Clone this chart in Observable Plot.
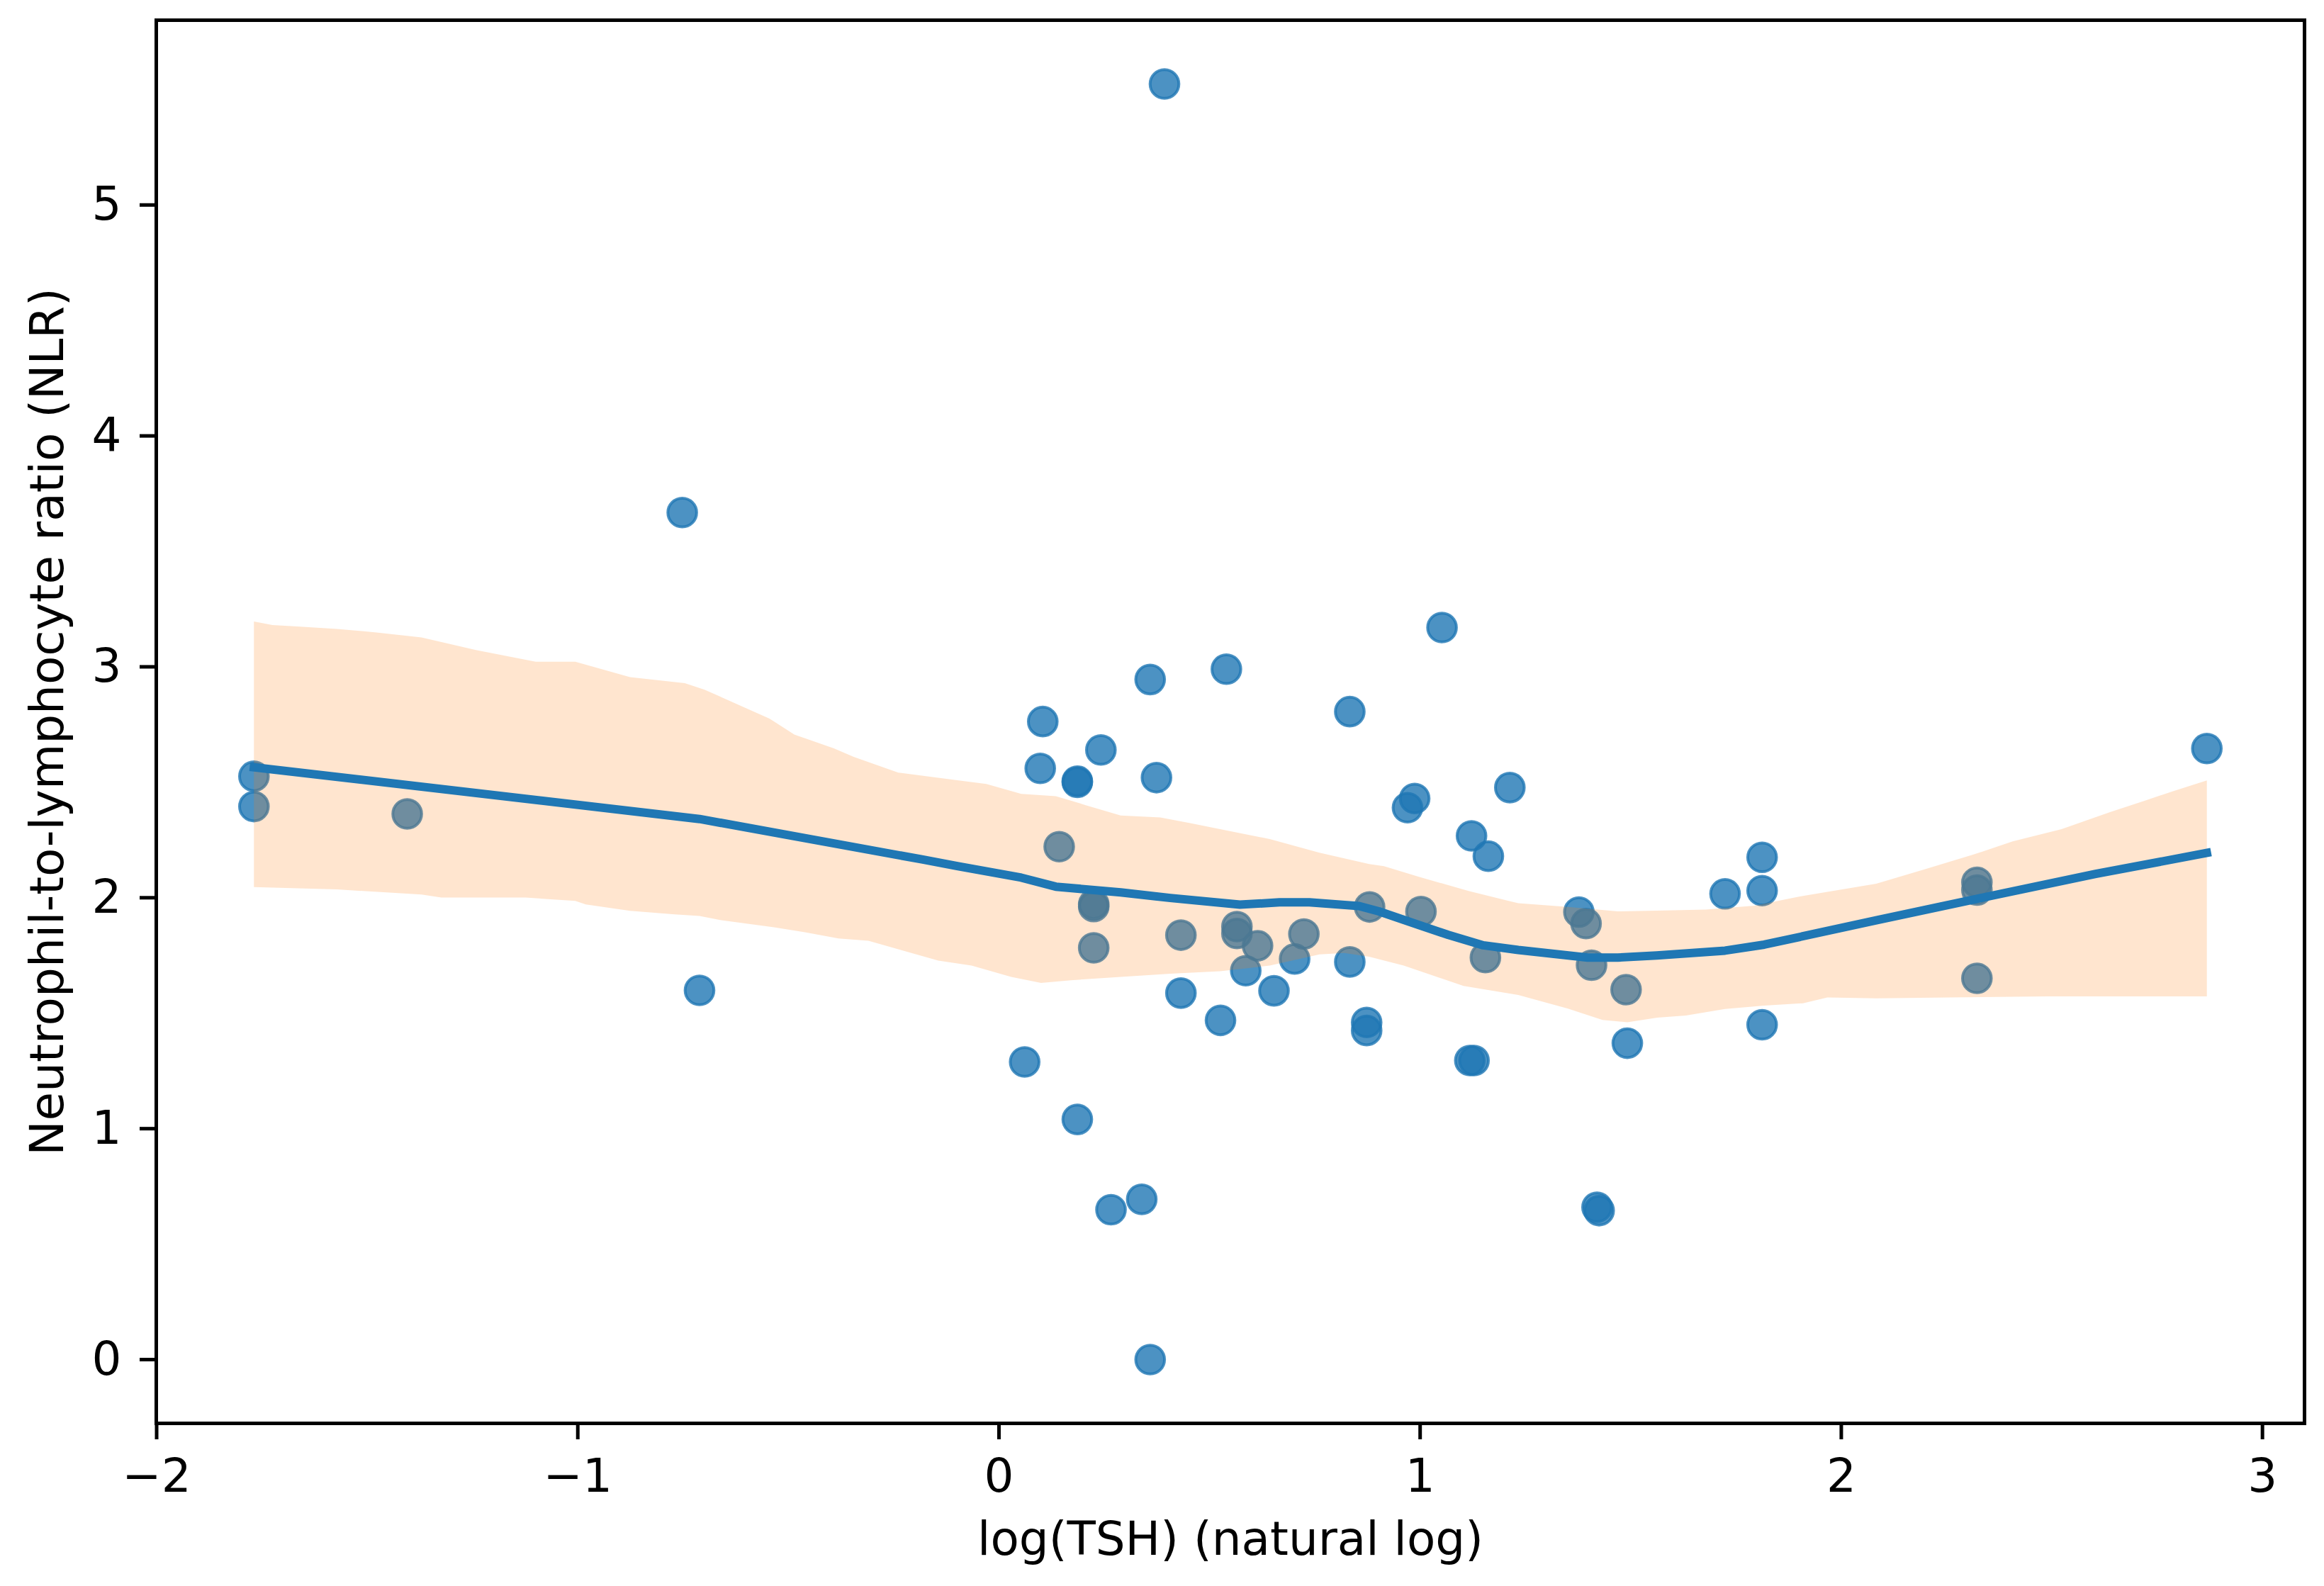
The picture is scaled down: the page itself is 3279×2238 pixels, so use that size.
<!DOCTYPE html>
<html>
<head>
<meta charset="utf-8">
<script src="https://cdn.jsdelivr.net/npm/d3@7"></script>
<script src="https://cdn.jsdelivr.net/npm/@observablehq/plot@0.6"></script>
<style>
  html, body { margin: 0; padding: 0; background: #ffffff; }
  #chart svg { display: block; }
</style>
</head>
<body>
<div id="chart"></div>
<script>
// ---- data ----
const pointX = [-1.769, -1.769, -1.405, -0.752, -0.711, 0.061, 0.098, 0.104, 0.143, 0.186,
  0.186, 0.186, 0.225, 0.225, 0.225, 0.242, 0.266, 0.339, 0.359, 0.359,
  0.374, 0.393, 0.432, 0.432, 0.526, 0.540, 0.565, 0.565, 0.586, 0.614,
  0.653, 0.702, 0.724, 0.833, 0.833, 0.873, 0.873, 0.880, 0.970, 0.987,
  1.002, 1.052, 1.118, 1.128, 1.122, 1.162, 1.155, 1.213, 1.377, 1.394,
  1.407, 1.420, 1.425, 1.489, 1.492, 1.724, 1.812, 1.812, 1.812, 2.322,
  2.322, 2.322, 2.868];
const pointY = [2.526, 2.395, 2.363, 3.668, 1.599, 1.289, 2.560, 2.763, 2.221, 2.500,
  2.505, 1.040, 1.962, 1.972, 1.783, 2.640, 0.649, 0.694, 2.945, 0.000,
  2.520, 5.524, 1.838, 1.587, 1.469, 2.990, 1.875, 1.845, 1.684, 1.792,
  1.597, 1.735, 1.843, 2.806, 1.722, 1.460, 1.425, 1.960, 2.390, 2.430,
  1.940, 3.170, 1.295, 1.295, 2.268, 2.180, 1.741, 2.477, 1.938, 1.888,
  1.708, 0.660, 0.645, 1.602, 1.370, 2.017, 2.175, 2.031, 1.450, 2.067,
  2.033, 1.651, 2.646];

const lowessX = [-1.769, -0.711, -0.183, -0.099, 0.053, 0.135, 0.289, 0.407, 0.572, 0.666,
  0.737, 0.855, 0.902, 0.997, 1.067, 1.150, 1.233, 1.398, 1.469, 1.562,
  1.724, 1.817, 2.083, 2.326, 2.604, 2.868];
const lowessY = [2.565, 2.341, 2.166, 2.137, 2.087, 2.048, 2.023, 1.999, 1.970, 1.980,
  1.980, 1.964, 1.941, 1.882, 1.839, 1.794, 1.774, 1.741, 1.741, 1.750,
  1.771, 1.797, 1.902, 1.997, 2.103, 2.194];

const bandUpperX = [-1.769, -1.725, -1.666, -1.572, -1.478, -1.371, -1.242, -1.100, -1.006, -0.876,
  -0.746, -0.699, -0.545, -0.486, -0.392, -0.345, -0.239, -0.099, -0.030, 0.053,
  0.135, 0.206, 0.289, 0.383, 0.454, 0.525, 0.643, 0.761, 0.879, 0.914,
  0.997, 1.115, 1.233, 1.351, 1.469, 1.562, 1.678, 1.794, 1.909, 2.083,
  2.199, 2.314, 2.407, 2.523, 2.638, 2.720, 2.789, 2.868];
const bandUpperY = [3.196, 3.181, 3.175, 3.164, 3.149, 3.127, 3.073, 3.022, 3.022, 2.955,
  2.929, 2.901, 2.776, 2.707, 2.647, 2.610, 2.542, 2.509, 2.493, 2.450,
  2.440, 2.401, 2.356, 2.348, 2.323, 2.297, 2.254, 2.195, 2.146, 2.137,
  2.091, 2.029, 1.976, 1.960, 1.941, 1.944, 1.949, 1.966, 2.008, 2.061,
  2.124, 2.187, 2.244, 2.297, 2.371, 2.420, 2.462, 2.508];

const bandLowerX = [-1.769, -1.572, -1.371, -1.324, -1.124, -1.006, -0.981, -0.876, -0.770, -0.711,
  -0.664, -0.534, -0.463, -0.381, -0.310, -0.239, -0.144, -0.065, 0.029, 0.100,
  0.171, 0.289, 0.407, 0.525, 0.643, 0.761, 0.820, 0.879, 0.961, 1.103,
  1.233, 1.351, 1.433, 1.492, 1.563, 1.631, 1.724, 1.817, 1.909, 1.967,
  2.083, 2.257, 2.488, 2.868];
const bandLowerY = [2.046, 2.036, 2.014, 2.001, 2.001, 1.986, 1.971, 1.943, 1.928, 1.921,
  1.904, 1.872, 1.851, 1.824, 1.814, 1.777, 1.728, 1.706, 1.657, 1.631,
  1.643, 1.657, 1.671, 1.682, 1.706, 1.755, 1.761, 1.745, 1.706, 1.618,
  1.579, 1.520, 1.471, 1.461, 1.481, 1.490, 1.518, 1.533, 1.543, 1.568,
  1.564, 1.568, 1.573, 1.573];

const xTicks = [-2, -1, 0, 1, 2, 3];
const yTicks = [0, 1, 2, 3, 4, 5];
const xLabel = "log(TSH) (natural log)";
const yLabel = "Neutrophil-to-lymphocyte ratio (NLR)";

// ---- tables built from the arrays ----
const points = pointX.map((x, i) => ({x, y: pointY[i]}));
const lowess = lowessX.map((x, i) => ({x, y: lowessY[i]}));
const upper = bandUpperX.map((x, i) => ({x, y: bandUpperY[i]}));
const lower = bandLowerX.map((x, i) => ({x, y: bandLowerY[i]}));
const bandPolygon = upper.concat(lower.slice().reverse());

// matplotlib-style 5% padding around the data
const xMin = d3.min(pointX), xMax = d3.max(pointX);
const yMin = d3.min(pointY), yMax = d3.max(pointY);
const xPad = (xMax - xMin) * 0.05, yPad = (yMax - yMin) * 0.05;

const FONT = 66;
const chart = Plot.plot({
  width: 3279,
  height: 2238,
  marginLeft: 220,
  marginRight: 28,
  marginTop: 28,
  marginBottom: 230,
  style: {fontFamily: "'DejaVu Sans', sans-serif", fontSize: FONT + "px", background: "#ffffff", color: "#000000"},
  x: {domain: [xMin - xPad, xMax + xPad]},
  y: {domain: [yMin - yPad, yMax + yPad]},
  marks: [
    Plot.dot(points, {x: "x", y: "y", r: 20.3, fill: "#1f77b4", fillOpacity: 0.8,
      stroke: "#1f77b4", strokeOpacity: 0.8, strokeWidth: 4}),
    Plot.line(bandPolygon, {x: "x", y: "y", fill: "#ff7f0e", fillOpacity: 0.2, stroke: "none"}),
    Plot.line(lowess, {x: "x", y: "y", stroke: "#1f77b4", strokeWidth: 12,
      strokeLinejoin: "round", strokeLinecap: "square"}),
    Plot.frame({stroke: "#000000", strokeWidth: 5}),
    Plot.axisX({ticks: xTicks, tickFormat: "d", tickSize: 23, tickPadding: 27, strokeWidth: 5,
      fontSize: FONT, label: null}),
    Plot.axisY({ticks: yTicks, tickFormat: "d", tickSize: 23, tickPadding: 26, strokeWidth: 5,
      fontSize: FONT, label: null}),
    Plot.text([xLabel], {text: d => d, frameAnchor: "bottom", dy: 139, lineAnchor: "top",
      textAnchor: "middle", fontSize: FONT, fill: "#000000"}),
    Plot.text([yLabel], {text: d => d, frameAnchor: "left", dx: -178, rotate: -90,
      lineAnchor: "top", textAnchor: "middle", fontSize: FONT, fill: "#000000"})
  ]
});
document.getElementById("chart").appendChild(chart);
</script>
</body>
</html>
